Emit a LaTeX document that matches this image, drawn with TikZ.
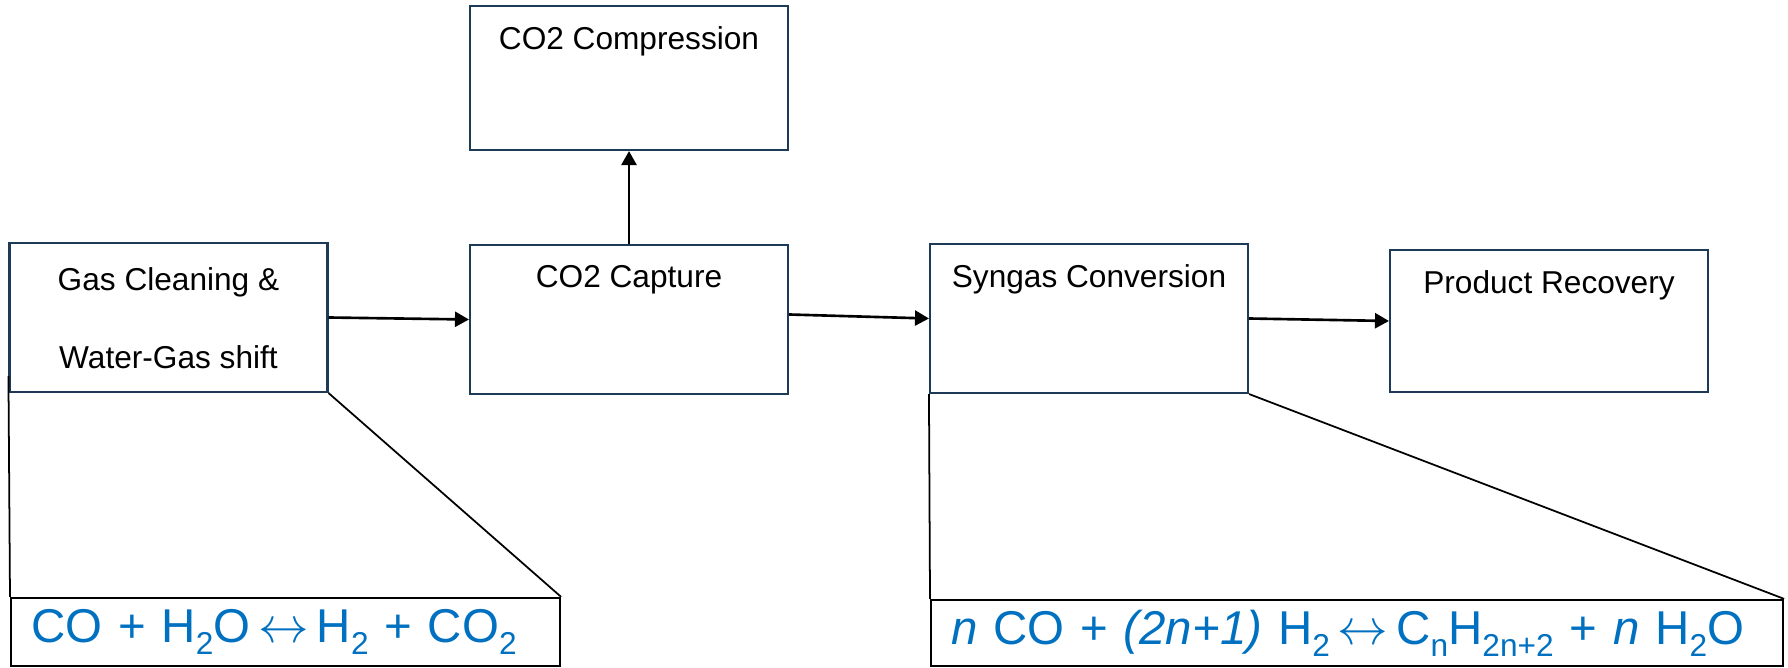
\documentclass[tikz,border=0pt]{standalone}
\usepackage{fontspec}
\setmainfont{Liberation Sans}
\usepackage{xcolor}
\usepackage{tikz}
\usetikzlibrary{arrows.meta,calc}

\definecolor{unitline}{HTML}{1D3A56}
\definecolor{eqblue}{HTML}{0070C0}

% lowered subscript for the reaction lines
\newcommand{\chemsub}[1]{\raisebox{-3.4pt}{\fontsize{9}{9}\selectfont #1}}
\newcommand{\eqarrow}{\,$\leftrightarrow$\,}

\begin{document}
\begin{tikzpicture}[
    unit/.style={draw=unitline, line width=0.6pt, minimum width=3.18cm, minimum height=1.49cm, inner sep=0pt},
    tag/.style={font=\fontsize{9}{11}\selectfont, inner sep=0pt},
    flow/.style={line width=0.75pt, -{Triangle[length=0.14cm, width=0.15cm]}},
    guide/.style={line width=0.5pt},
    eqbox/.style={draw, line width=0.6pt, anchor=south west, align=left, inner xsep=0.2cm, inner ysep=0pt,
                  font=\fontsize{13.5}{15}\selectfont, text=eqblue}
]
    \useasboundingbox (0,0) rectangle (17.88,6.67);

    % process units
    \node[unit] (gas) at (1.685,3.495) {};
    \node[unit] (capture) at (6.29,3.475) {};
    \node[unit, minimum height=1.44cm] (compress) at (6.29,5.89) {};
    \node[unit] (syngas) at (10.89,3.485) {};
    \node[unit, minimum height=1.42cm] (product) at (15.49,3.46) {};

    \node[tag, align=center, font=\fontsize{9}{22.3}\selectfont] (gastxt) at ([yshift=-0.76cm]gas.north) {Gas Cleaning \&\\Water-Gas shift};
    \node[tag] (capturetxt) at ([yshift=-0.36cm]capture.north) {CO2 Capture};
    \node[tag] (compresstxt) at ([yshift=-0.36cm]compress.north) {CO2 Compression};
    \node[tag] (syngastxt) at ([yshift=-0.36cm]syngas.north) {Syngas Conversion};
    \node[tag] (producttxt) at ([yshift=-0.36cm]product.north) {Product Recovery};

    % reaction boxes
    \node[eqbox, text width=5.09cm, minimum height=0.68cm] (shiftrx) at (0.10,0)
        {CO + H\chemsub{2}O\eqarrow H\chemsub{2} + CO\chemsub{2}};
    \node[eqbox, text width=8.12cm, minimum height=0.66cm] (ftrx) at (9.30,0)
        {\textit{n} CO + \textit{(2n+1)} H\chemsub{2}\eqarrow C\chemsub{n}H\chemsub{2n+2} + \textit{n} H\chemsub{2}O};

    \draw[flow] (gas.east) -- (capture.west);
    \draw[flow] ([yshift=0.05cm]capture.east) -- (syngas.west);
    \draw[flow] (syngas.east) -- (product.west);
    \draw[flow] (capture.north) -- (compress.south);

    \draw[guide] ([yshift=0.17cm]gas.south west) -- (shiftrx.north west);
    \draw[guide] (gas.south east) -- (shiftrx.north east);
    \draw[guide] (syngas.south west) -- (ftrx.north west);
    \draw[guide] (syngas.south east) -- (ftrx.north east);
\end{tikzpicture}
\end{document}
